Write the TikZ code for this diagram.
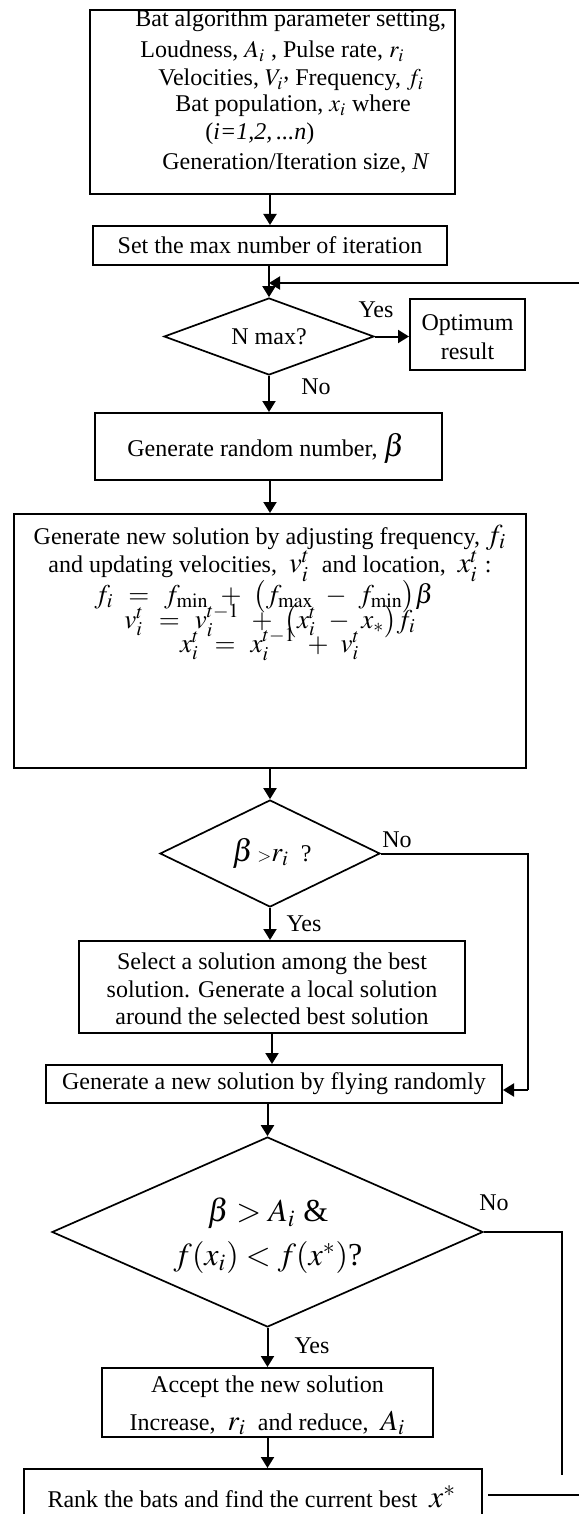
\documentclass[tikz,border=0pt]{standalone}
\usepackage{mathptmx}
\usepackage[no-math]{fontspec}
\setmainfont{Liberation Serif}
\usetikzlibrary{arrows.meta,shapes.geometric,calc}
\newcommand{\widesp}{\thickmuskip=10mu \medmuskip=8mu}
\tikzset{
  box/.style={draw, rectangle, line width=1pt, inner sep=0pt},
  dia/.style={draw, diamond, line width=0.85pt, inner sep=0pt},
  txt/.style={inner sep=0pt, align=center},
  eq/.style={inner sep=0pt, anchor=base, font=\fontsize{13.5}{15}\selectfont},
  arr/.style={line width=1pt, -{Triangle[width=6.5pt,length=5.5pt]}},
  ln/.style={line width=1pt},
}
\begin{document}
\begin{tikzpicture}[x=0.5pt, y=-0.5pt, font=\fontsize{12}{14}\selectfont]
\useasboundingbox (0,0) rectangle (579,1514);
\clip (0,0) rectangle (579,1514);
% top box
\node[box, minimum width=182.5pt, minimum height=92pt] (b1) at (272.5,102) {};
\node[txt, anchor=west] (p1) at (135,21) {Bat algorithm parameter setting,};
\node[txt, anchor=west] (p2) at (140,51) {Loudness, $A_i$ , Pulse rate, $r_i$};
\node[txt, anchor=west] (p3) at (158,80) {Velocities, $V_i$\raisebox{0.6ex}{,} Frequency, $f_i$};
\node[txt, anchor=west] (p4) at (175,106) {Bat population, $x_i$ where};
\node[txt, anchor=west] (p5) at (205,134) {(\textit{i=1,2,\,...n})};
\node[txt, anchor=west] (p6) at (162,163) {Generation/Iteration size, \textit{N}};
% set max
\node[box, minimum width=177pt, minimum height=19.5pt] (b2) at (270,245.5) {Set the max number of iteration};
% N max diamond
\node[dia, minimum width=105pt, minimum height=38.5pt] (d1) at (269,336.5) {};
\node[txt] (d1t) at (d1) {N max?};
\node[box, minimum width=57.5pt, minimum height=35.5pt] (opt) at (467.5,334.5) {};
\node[txt, font=\fontsize{12}{14.5}\selectfont] (optt) at (467.5,337) {Optimum\\result};
% random number
\node[box, minimum width=173.5pt, minimum height=33.5pt] (rand) at (268.5,446.5) {};
\node[txt] (randt) at (266,448) {Generate random number, \scalebox{1.3}{$\beta$}};
% big box
\node[box, minimum width=256pt, minimum height=127pt] (big) at (270,641) {};
\node[txt] (g1) at (270,538) {Generate new solution by adjusting frequency, \scalebox{1.2}{$f_i$}};
\node[txt] (g2) at (270,566) {and updating velocities, \ \scalebox{1.2}{$v_i^t$} \ and location, \ \scalebox{1.2}{$x_i^t$} :};
\node[eq] (g3) at (264,603) {$\widesp f_i = f_{\min} + \bigl(f_{\max} - f_{\min}\bigr)\beta$};
\node[eq] (g4) at (270,628) {$\widesp v_i^t = v_i^{t-1} + \bigl(x_i^t - x_*\bigr) f_i$};
\node[eq] (g5) at (270,652) {$\widesp x_i^t = x_i^{t-1} + v_i^t$};
% beta > r_i
\node[dia, minimum width=110pt, minimum height=53.5pt] (d2) at (270,853.5) {};
\node[txt] (d2t) at (272,853) {\scalebox{1.3}{$\beta$}\,{\small$>$}\scalebox{1.15}{$r_i$} \ ?};
% select
\node[box, minimum width=193pt, minimum height=46pt] (sel) at (272,987) {};
\node[txt, font=\fontsize{12}{13.75}\selectfont] (selt) at (272,989) {Select a solution among the best\\solution. Generate a local solution\\around the selected best solution};
% new solution
\node[box, minimum width=228pt, minimum height=19pt] (new) at (274,1084) {Generate a new solution by flying randomly};
% big diamond
\node[dia, minimum width=215.5pt, minimum height=95pt] (d3) at (267.5,1232) {};
\node[txt, font=\fontsize{16}{22}\selectfont] (d3t) at (268,1236) {$\beta > A_i$ \&\\$f(x_i) < f(x^*)$?};
% accept
\node[box, minimum width=165.5pt, minimum height=34.5pt] (acc) at (267.5,1402.5) {};
\node[txt, font=\fontsize{12}{19}\selectfont] (acct) at (267.5,1405) {Accept the new solution\\Increase, \ \scalebox{1.2}{$r_i$} \ and reduce, \ \scalebox{1.2}{$A_i$}};
% rank
\node[box, minimum width=229pt, minimum height=26pt] (rank) at (253,1495) {};
\node[txt] (rankt) at (252,1497) {Rank the bats and find the current best \ \scalebox{1.3}{$x^*$}};
% labels
\node[txt] (l1) at (376,310) {Yes};
\node[txt] (l2) at (316,387) {No};
\node[txt] (l3) at (397,840) {No};
\node[txt] (l4) at (304,924) {Yes};
\node[txt] (l5) at (494,1203) {No};
\node[txt] (l6) at (312,1346) {Yes};
% coordinates
\coordinate (fb) at (579,283);
\coordinate (c2) at (528,1090);
\coordinate (c3) at (562,1475);
\coordinate (c4) at (579,1495);
% connectors
\draw[arr] (b1.south -| b2.north) -- (b2.north);
\draw[arr] (b2.south -| d1.north) -- (d1.north);
\draw[arr] (fb) -- (fb -| d1.north);
\draw[arr] (d1.east) -- (d1.east -| opt.west);
\draw[arr] (d1.south) -- (d1.south |- rand.north);
\draw[arr] (rand.south -| big.north) -- (big.north);
\draw[arr] (big.south -| d2.north) -- (d2.north);
\draw[arr] (d2.south) -- (d2.south |- sel.north);
\draw[ln] (d2.east) -| (c2);
\draw[arr] (c2) -- (c2 -| new.east);
\draw[arr] (sel.south) -- (sel.south |- new.north);
\draw[arr] (new.south -| d3.north) -- (d3.north);
\draw[ln] (d3.east) -| (c3);
\draw[arr] (d3.south) -- (d3.south |- acc.north);
\draw[arr] (acc.south) -- (acc.south |- rank.north);
\draw[ln] ($(rank.east)+(5,0)$) -- (c4);
\end{tikzpicture}
\end{document}
